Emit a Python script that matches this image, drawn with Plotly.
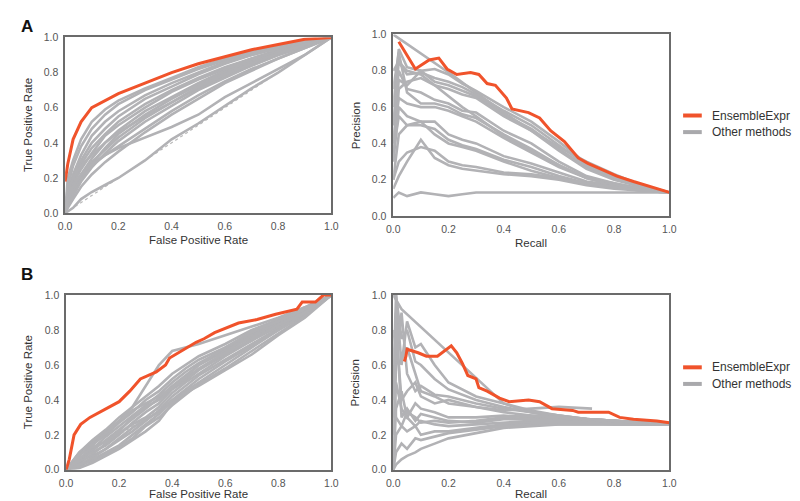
import plotly.graph_objects as go

W, H = 800, 501
ORANGE = "#f0532b"
GREY = "#b2b2b5"
FONT = "Liberation Sans, Arial, sans-serif"

# ---------------- Panel A : ROC ----------------
roc_a_fpr = [0, 0.01, 0.03, 0.06, 0.1, 0.15, 0.2, 0.3, 0.4, 0.5, 0.6, 0.7, 0.8, 0.9, 1.0]
roc_a_ensemble_tpr = [0.18, 0.28, 0.42, 0.52, 0.6, 0.64, 0.68, 0.74, 0.80, 0.85, 0.89, 0.93, 0.96, 0.99, 1.0]
roc_a_other_tpr = [
    [0, 0.20, 0.30, 0.42, 0.52, 0.59, 0.64, 0.71, 0.77, 0.83, 0.88, 0.92, 0.95, 0.98, 1],
    [0, 0.15, 0.27, 0.38, 0.48, 0.56, 0.62, 0.70, 0.76, 0.82, 0.87, 0.91, 0.95, 0.98, 1],
    [0, 0.12, 0.22, 0.33, 0.44, 0.52, 0.58, 0.67, 0.74, 0.80, 0.86, 0.90, 0.94, 0.97, 1],
    [0, 0.10, 0.20, 0.30, 0.40, 0.48, 0.55, 0.65, 0.72, 0.79, 0.85, 0.90, 0.94, 0.97, 1],
    [0, 0.08, 0.18, 0.28, 0.37, 0.45, 0.52, 0.62, 0.70, 0.77, 0.83, 0.88, 0.93, 0.97, 1],
    [0, 0.10, 0.17, 0.25, 0.34, 0.44, 0.50, 0.60, 0.69, 0.76, 0.82, 0.88, 0.92, 0.96, 1],
    [0, 0.06, 0.14, 0.22, 0.31, 0.40, 0.47, 0.58, 0.66, 0.74, 0.81, 0.87, 0.92, 0.96, 1],
    [0, 0.05, 0.12, 0.20, 0.28, 0.37, 0.45, 0.56, 0.65, 0.73, 0.80, 0.86, 0.91, 0.96, 1],
    [0, 0.12, 0.20, 0.27, 0.33, 0.40, 0.46, 0.55, 0.63, 0.71, 0.78, 0.84, 0.90, 0.95, 1],
    [0, 0.04, 0.10, 0.18, 0.26, 0.34, 0.41, 0.52, 0.61, 0.70, 0.77, 0.84, 0.90, 0.95, 1],
    [0, 0.06, 0.13, 0.20, 0.27, 0.33, 0.38, 0.48, 0.58, 0.67, 0.75, 0.82, 0.88, 0.94, 1],
    [0, 0.03, 0.08, 0.15, 0.22, 0.29, 0.35, 0.46, 0.56, 0.65, 0.74, 0.81, 0.88, 0.94, 1],
    [0, 0.09, 0.16, 0.22, 0.29, 0.36, 0.43, 0.54, 0.63, 0.72, 0.79, 0.85, 0.91, 0.96, 1],
    [0, 0.07, 0.15, 0.22, 0.28, 0.33, 0.37, 0.43, 0.49, 0.56, 0.66, 0.74, 0.82, 0.90, 1],
    [0, 0.01, 0.03, 0.08, 0.12, 0.16, 0.20, 0.30, 0.42, 0.51, 0.61, 0.71, 0.80, 0.90, 1],
]

# ---------------- Panel A : PR ----------------
pr_a_ensemble_recall = [0.02, 0.08, 0.13, 0.165, 0.195, 0.23, 0.28, 0.31, 0.34, 0.37, 0.41, 0.43, 0.49,
                        0.53, 0.57, 0.62, 0.67, 0.705, 0.765, 0.81, 0.87, 0.94, 1.0]
pr_a_ensemble_precision = [0.96, 0.81, 0.86, 0.87, 0.81, 0.78, 0.79, 0.78, 0.73, 0.72, 0.65, 0.59, 0.57,
                           0.54, 0.47, 0.41, 0.32, 0.29, 0.25, 0.22, 0.19, 0.16, 0.13]
pr_a_recall = [0, 0.02, 0.05, 0.1, 0.15, 0.2, 0.25, 0.3, 0.4, 0.5, 0.6, 0.7, 0.8, 0.9, 1.0]
pr_a_other_precision = [
    [0.60, 0.92, 0.82, 0.80, 0.81, 0.78, 0.73, 0.69, 0.60, 0.52, 0.41, 0.29, 0.22, 0.17, 0.13],
    [0.50, 0.85, 0.78, 0.79, 0.76, 0.74, 0.71, 0.67, 0.58, 0.50, 0.39, 0.28, 0.21, 0.17, 0.13],
    [0.40, 0.75, 0.72, 0.80, 0.74, 0.72, 0.69, 0.66, 0.56, 0.48, 0.37, 0.27, 0.21, 0.16, 0.13],
    [0.30, 0.70, 0.74, 0.76, 0.72, 0.70, 0.67, 0.65, 0.55, 0.47, 0.36, 0.26, 0.20, 0.16, 0.13],
    [0.50, 0.80, 0.70, 0.68, 0.64, 0.62, 0.58, 0.57, 0.47, 0.40, 0.30, 0.22, 0.18, 0.15, 0.13],
    [0.70, 0.90, 0.68, 0.62, 0.62, 0.60, 0.56, 0.54, 0.45, 0.37, 0.28, 0.21, 0.18, 0.15, 0.13],
    [0.40, 0.65, 0.62, 0.60, 0.60, 0.58, 0.55, 0.52, 0.43, 0.35, 0.27, 0.21, 0.17, 0.15, 0.13],
    [0.80, 0.85, 0.80, 0.78, 0.72, 0.66, 0.60, 0.55, 0.44, 0.36, 0.28, 0.21, 0.17, 0.15, 0.13],
    [0.30, 0.60, 0.55, 0.52, 0.52, 0.45, 0.42, 0.40, 0.33, 0.29, 0.24, 0.19, 0.17, 0.15, 0.13],
    [0.35, 0.55, 0.50, 0.50, 0.48, 0.42, 0.39, 0.37, 0.31, 0.27, 0.22, 0.18, 0.16, 0.14, 0.13],
    [0.20, 0.45, 0.50, 0.52, 0.45, 0.40, 0.38, 0.36, 0.30, 0.25, 0.21, 0.18, 0.16, 0.14, 0.13],
    [0.15, 0.22, 0.30, 0.42, 0.32, 0.28, 0.26, 0.25, 0.23, 0.22, 0.20, 0.17, 0.15, 0.14, 0.13],
    [0.20, 0.30, 0.35, 0.38, 0.36, 0.30, 0.28, 0.27, 0.24, 0.23, 0.21, 0.18, 0.16, 0.14, 0.13],
    [0.10, 0.13, 0.11, 0.13, 0.12, 0.11, 0.12, 0.13, 0.13, 0.13, 0.13, 0.13, 0.13, 0.13, 0.13],
]
pr_a_straight_recall = [0.0, 0.22, 0.3, 0.4, 0.5, 0.6, 0.7, 0.8, 0.9, 1.0]
pr_a_straight_precision = [1.0, 0.77, 0.68, 0.57, 0.47, 0.38, 0.30, 0.23, 0.17, 0.13]

# ---------------- Panel B : ROC ----------------
roc_b_ensemble_fpr = [0, 0.012, 0.03, 0.055, 0.09, 0.14, 0.2, 0.24, 0.28, 0.34, 0.375, 0.39, 0.425,
                      0.49, 0.52, 0.56, 0.65, 0.72, 0.79, 0.87, 0.89, 0.94, 0.97, 1.0]
roc_b_ensemble_tpr = [0, 0.06, 0.2, 0.26, 0.3, 0.34, 0.39, 0.45, 0.52, 0.56, 0.6, 0.64, 0.67,
                      0.73, 0.75, 0.785, 0.84, 0.86, 0.89, 0.92, 0.96, 0.96, 1.0, 1.0]
roc_b_fpr = [0, 0.05, 0.1, 0.15, 0.2, 0.25, 0.3, 0.35, 0.4, 0.45, 0.5, 0.6, 0.7, 0.8, 0.9, 1.0]
roc_b_other_tpr = [
    [0, 0.10, 0.16, 0.22, 0.28, 0.36, 0.48, 0.60, 0.68, 0.70, 0.72, 0.77, 0.82, 0.87, 0.93, 1],
    [0, 0.10, 0.17, 0.23, 0.30, 0.36, 0.42, 0.48, 0.55, 0.60, 0.65, 0.72, 0.80, 0.86, 0.93, 1],
    [0, 0.08, 0.15, 0.20, 0.27, 0.33, 0.40, 0.45, 0.52, 0.58, 0.63, 0.70, 0.78, 0.85, 0.92, 1],
    [0, 0.06, 0.12, 0.19, 0.25, 0.31, 0.37, 0.43, 0.50, 0.56, 0.61, 0.69, 0.77, 0.84, 0.92, 1],
    [0, 0.05, 0.11, 0.17, 0.23, 0.29, 0.35, 0.41, 0.48, 0.54, 0.60, 0.68, 0.76, 0.84, 0.91, 1],
    [0, 0.07, 0.10, 0.14, 0.20, 0.27, 0.33, 0.38, 0.46, 0.51, 0.57, 0.66, 0.75, 0.83, 0.91, 1],
    [0, 0.04, 0.09, 0.15, 0.21, 0.26, 0.30, 0.36, 0.44, 0.50, 0.55, 0.65, 0.74, 0.82, 0.90, 1],
    [0, 0.05, 0.08, 0.12, 0.17, 0.22, 0.28, 0.34, 0.42, 0.48, 0.54, 0.63, 0.72, 0.81, 0.90, 1],
    [0, 0.03, 0.07, 0.12, 0.18, 0.24, 0.29, 0.33, 0.40, 0.46, 0.52, 0.62, 0.71, 0.80, 0.89, 1],
    [0, 0.02, 0.06, 0.10, 0.14, 0.20, 0.26, 0.32, 0.39, 0.45, 0.50, 0.60, 0.70, 0.80, 0.89, 1],
    [0, 0.03, 0.05, 0.09, 0.13, 0.18, 0.25, 0.30, 0.37, 0.43, 0.49, 0.58, 0.68, 0.78, 0.88, 1],
    [0, 0.01, 0.04, 0.08, 0.12, 0.17, 0.22, 0.28, 0.38, 0.44, 0.48, 0.57, 0.66, 0.77, 0.87, 1],
    [0, 0.09, 0.13, 0.16, 0.22, 0.30, 0.36, 0.40, 0.47, 0.52, 0.58, 0.67, 0.74, 0.83, 0.90, 1],
    [0, 0.06, 0.14, 0.21, 0.28, 0.34, 0.38, 0.42, 0.47, 0.53, 0.60, 0.70, 0.79, 0.85, 0.92, 1],
]

# ---------------- Panel B : PR ----------------
pr_b_ensemble_recall = [0.04, 0.046, 0.05, 0.09, 0.12, 0.16, 0.21, 0.23, 0.25, 0.27, 0.30, 0.31, 0.34,
                        0.385, 0.42, 0.49, 0.53, 0.575, 0.65, 0.67, 0.78, 0.82, 0.87, 0.955, 1.0]
pr_b_ensemble_precision = [0.62, 0.65, 0.69, 0.67, 0.65, 0.65, 0.71, 0.67, 0.61, 0.54, 0.52, 0.47, 0.45,
                           0.41, 0.39, 0.40, 0.39, 0.35, 0.34, 0.33, 0.33, 0.30, 0.29, 0.28, 0.27]
pr_b_recall = [0, 0.01, 0.03, 0.05, 0.08, 0.1, 0.15, 0.2, 0.3, 0.4, 0.5, 0.6, 0.7, 0.8, 0.9, 1.0]
pr_b_other_precision = [
    [1.00, 1.00, 0.60, 0.85, 0.70, 0.72, 0.60, 0.50, 0.42, 0.38, 0.33, 0.31, 0.29, 0.28, 0.27, 0.26],
    [0.50, 1.00, 0.75, 0.80, 0.62, 0.60, 0.52, 0.46, 0.40, 0.36, 0.33, 0.30, 0.29, 0.28, 0.27, 0.26],
    [0.00, 0.60, 0.90, 0.55, 0.45, 0.48, 0.43, 0.42, 0.38, 0.35, 0.33, 0.31, 0.29, 0.28, 0.27, 0.26],
    [0.30, 0.80, 0.40, 0.45, 0.50, 0.42, 0.38, 0.40, 0.36, 0.33, 0.31, 0.30, 0.29, 0.28, 0.27, 0.26],
    [0.20, 0.50, 0.35, 0.30, 0.38, 0.35, 0.33, 0.30, 0.30, 0.31, 0.30, 0.29, 0.28, 0.27, 0.27, 0.26],
    [0.40, 0.90, 0.30, 0.35, 0.28, 0.32, 0.30, 0.28, 0.27, 0.29, 0.29, 0.28, 0.27, 0.27, 0.26, 0.26],
    [0.00, 0.35, 0.45, 0.30, 0.25, 0.28, 0.26, 0.25, 0.26, 0.27, 0.28, 0.28, 0.27, 0.27, 0.26, 0.26],
    [0.00, 0.20, 0.25, 0.22, 0.25, 0.20, 0.22, 0.22, 0.24, 0.26, 0.27, 0.27, 0.27, 0.26, 0.26, 0.26],
    [0.00, 0.10, 0.15, 0.12, 0.18, 0.17, 0.19, 0.21, 0.23, 0.25, 0.26, 0.26, 0.26, 0.26, 0.26, 0.26],
    [0.00, 0.03, 0.06, 0.08, 0.10, 0.12, 0.15, 0.18, 0.21, 0.24, 0.25, 0.26, 0.26, 0.26, 0.26, 0.26],
    [0.60, 0.30, 0.25, 0.33, 0.30, 0.27, 0.28, 0.27, 0.28, 0.30, 0.31, 0.30, 0.29, 0.28, 0.27, 0.26],
]
pr_b_straight_recall = [0.0, 0.03, 0.4, 0.5, 0.6, 0.7, 0.8, 0.9, 1.0]
pr_b_straight_precision = [1.0, 0.92, 0.38, 0.34, 0.31, 0.29, 0.28, 0.27, 0.26]
pr_b_short_recall = [0, 0.02, 0.05, 0.1, 0.15, 0.2, 0.3, 0.4, 0.5, 0.6, 0.72]
pr_b_short_precision = [0.8, 0.6, 0.7, 0.45, 0.42, 0.38, 0.36, 0.34, 0.35, 0.36, 0.35]

diag = [0, 1]

fig = go.Figure()


def line(xs, ys, color, width, ax, dash=None):
    fig.add_trace(go.Scatter(
        x=xs, y=ys, mode="lines", showlegend=False, hoverinfo="skip",
        line=dict(color=color, width=width, dash=dash),
        xaxis="x" + ax, yaxis="y" + ax,
    ))


GW, OW = 2.6, 3
# ROC A
line(diag, diag, "#b8b8b8", 1.2, "", "dot")
for ys in roc_a_other_tpr:
    line(roc_a_fpr, ys, GREY, GW, "")
line(roc_a_fpr, roc_a_ensemble_tpr, ORANGE, OW, "")
# PR A
line(pr_a_straight_recall, pr_a_straight_precision, GREY, GW, "2")
for ys in pr_a_other_precision:
    line(pr_a_recall, ys, GREY, GW, "2")
line(pr_a_ensemble_recall, pr_a_ensemble_precision, ORANGE, OW, "2")
# ROC B
line(diag, diag, "#b8b8b8", 1.2, "3", "dot")
for ys in roc_b_other_tpr:
    line(roc_b_fpr, ys, GREY, GW, "3")
line(roc_b_ensemble_fpr, roc_b_ensemble_tpr, ORANGE, OW, "3")
# PR B
line(pr_b_straight_recall, pr_b_straight_precision, GREY, GW, "4")
line(pr_b_short_recall, pr_b_short_precision, GREY, GW, "4")
for ys in pr_b_other_precision:
    line(pr_b_recall, ys, GREY, GW, "4")
line(pr_b_ensemble_recall, pr_b_ensemble_precision, ORANGE, OW, "4")

ticks = [0, 0.2, 0.4, 0.6, 0.8, 1.0]
tick_text = ["0.0", "0.2", "0.4", "0.6", "0.8", "1.0"]


def px_x(p):
    return p / W


def px_y(p):
    return 1 - p / H


def axis(domain, anchor):
    return dict(domain=domain, anchor=anchor, range=[0, 1], showgrid=False, zeroline=False,
                showline=True, mirror=True, linecolor="#6b6b6b", linewidth=1.5, ticks="",
                tickvals=ticks, ticktext=tick_text, ticklabelstandoff=3,
                tickfont=dict(family=FONT, size=10.5, color="#555555"), fixedrange=True)


boxes = {
    "": (51, 322, 24, 204),
    "2": (385, 666, 21, 207),
    "3": (52, 322, 288, 467),
    "4": (385, 666, 288, 467),
}
layout = dict(width=W, height=H, margin=dict(l=0, r=0, t=0, b=0),
              paper_bgcolor="white", plot_bgcolor="white", showlegend=False,
              font=dict(family=FONT, color="#333333"))
for k, (x0, x1, y0, y1) in boxes.items():
    n = k if k else ""
    layout["xaxis" + n] = axis([px_x(x0), px_x(x1)], "y" + n)
    layout["yaxis" + n] = axis([px_y(y1), px_y(y0)], "x" + n)
fig.update_layout(**layout)

ann = []
titles = [
    ("False Positive Rate", "True Positive Rate", ""),
    ("Recall", "Precision", "2"),
    ("False Positive Rate", "True Positive Rate", "3"),
    ("Recall", "Precision", "4"),
]
for xt, yt, k in titles:
    x0, x1, y0, y1 = boxes[k]
    ann.append(dict(text=xt, x=px_x((x0 + x1) / 2), y=px_y(min(y1 + 28, 492)), xref="paper", yref="paper",
                    showarrow=False, xanchor="center", yanchor="middle",
                    font=dict(family=FONT, size=11.5, color="#333333")))
    ann.append(dict(text=yt, x=px_x(x0 - 38), y=px_y((y0 + y1) / 2), xref="paper", yref="paper",
                    showarrow=False, xanchor="center", yanchor="middle", textangle=-90,
                    font=dict(family=FONT, size=11.5, color="#333333")))

ann.append(dict(text="<b>A</b>", x=px_x(4), y=px_y(13), xref="paper", yref="paper", showarrow=False,
                xanchor="left", yanchor="middle", font=dict(family=FONT, size=17, color="#111111")))
ann.append(dict(text="<b>B</b>", x=px_x(4), y=px_y(267), xref="paper", yref="paper", showarrow=False,
                xanchor="left", yanchor="middle", font=dict(family=FONT, size=17, color="#111111")))

legend_names = ["EnsembleExpr", "Other methods"]
legend_colors = [ORANGE, "#a9a9ac"]
shapes = []
for top in (104, 362):
    for i, (name, col) in enumerate(zip(legend_names, legend_colors)):
        yy = top + i * 17
        shapes.append(dict(type="line", xref="paper", yref="paper", x0=px_x(680), x1=px_x(699),
                           y0=px_y(yy), y1=px_y(yy), line=dict(color=col, width=4)))
        ann.append(dict(text=name, x=px_x(707), y=px_y(yy), xref="paper", yref="paper", showarrow=False,
                        xanchor="left", yanchor="middle", font=dict(family=FONT, size=12, color="#333333")))

fig.update_layout(annotations=ann, shapes=shapes)
fig.write_html("out.html")
